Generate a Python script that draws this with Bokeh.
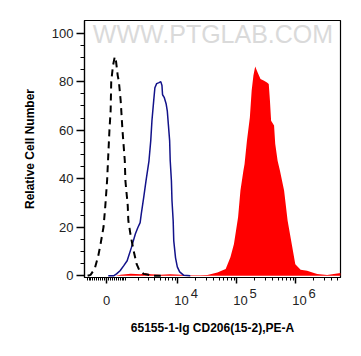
import numpy as np
from bokeh.plotting import figure
from bokeh.models import FixedTicker, Range1d, Label
from bokeh.embed import file_html
from bokeh.resources import INLINE

# x positions in biexponential display units (decades), y in % of max
iso_x = [-0.32, -0.27, -0.20, -0.14, -0.10, -0.05, -0.02, 0.01, 0.05, 0.07, 0.08, 0.11, 0.14,
         0.16, 0.19, 0.21, 0.24, 0.27, 0.31, 0.32, 0.36, 0.37, 0.41, 0.46, 0.51, 0.56, 0.63,
         0.71, 0.78, 0.92]
iso_y = [0.0, 0.4, 2.9, 8.2, 13.2, 20.2, 28.9, 39.2, 60.2, 68.0, 80.0, 86.6, 90.3,
         88.7, 82.5, 80.0, 72.2, 60.2, 47.4, 39.2, 28.9, 22.7, 16.5, 10.3, 4.9, 2.1, 0.8,
         0.4, 0.0, 0.0]

ctrl_x = [0.03, 0.12, 0.17, 0.23, 0.29, 0.35, 0.42, 0.49, 0.53, 0.57, 0.59, 0.63, 0.67, 0.72,
          0.75, 0.77, 0.80, 0.82, 0.85, 0.89, 0.92, 0.94, 0.95, 0.98, 1.01, 1.03, 1.05, 1.07,
          1.08, 1.10, 1.11, 1.13, 1.14, 1.17, 1.20, 1.24, 1.31, 1.42]
ctrl_y = [0.0, 0.0, 0.8, 2.1, 4.1, 6.2, 11.5, 17.3, 19.8, 21.9, 25.6, 32.2, 39.2, 47.4,
          55.7, 63.9, 72.2, 77.5, 79.2, 79.6, 80.0, 78.4, 74.6, 73.4, 70.9, 68.0, 61.9, 55.7,
          47.4, 39.2, 30.9, 22.7, 14.4, 7.4, 3.7, 1.6, 0.2, 0.0]

pos_x = [0.15, 0.24, 0.41, 0.58, 0.66, 0.75, 0.92, 1.08, 1.25, 1.42, 1.59, 1.71, 1.88, 2.02,
         2.10, 2.16, 2.23, 2.27, 2.32, 2.34, 2.38, 2.43, 2.46, 2.49, 2.52, 2.56, 2.61, 2.67,
         2.72, 2.75, 2.77, 2.79, 2.84, 2.86, 2.90, 2.94, 3.01, 3.07, 3.15, 3.20, 3.29, 3.40,
         3.49, 3.57, 3.74, 3.91, 3.97]
pos_y = [0.0, 0.4, 0.8, 0.6, 1.0, 0.6, 0.4, 0.6, 0.4, 0.2, 0.2, 0.3, 1.4, 2.8,
         7.6, 13.1, 24.1, 35.1, 43.3, 46.1, 55.7, 65.3, 76.3, 82.5, 86.2, 83.9, 81.1, 80.4,
         79.7, 79.0, 72.2, 63.9, 61.9, 54.3, 47.4, 43.3, 35.1, 22.7, 11.7, 4.8, 2.5, 2.1,
         1.4, 0.7, 0.3, 0.9, 1.2]

x_major_vals = [0, 1e4, 1e5, 1e6]
x_label_base = ["0", "10", "10", "10"]
x_label_exp = ["", "4", "5", "6"]
x_minor_vals = ([-k * 100 for k in range(1, 11)] + [k * 100 for k in range(1, 10)] +
                [k * 1000 for k in range(1, 10)] + [k * 1e4 for k in range(2, 10)] +
                [k * 1e5 for k in range(2, 10)] + [k * 1e6 for k in range(2, 6)])
y_ticks = [0, 20, 40, 60, 80, 100]
y_minor = [v for v in range(0, 105, 5)]


def biex(v):
    return round(float(np.arcsinh(v / 1234.0) / np.log(10)), 6)


FS = "\u2007"   # figure space
NB = "\u00a0"   # no-break space


def tick_label(base, exp):
    # exponent on a raised first line, base on the second line
    if not exp:
        return NB + "\n" + base
    return FS * 4 + NB + exp + "\n" + FS + base


X0, X1 = -0.373, 3.966
p = figure(width=353, height=348, output_backend="svg", toolbar_location=None,
           x_range=Range1d(X0, X1), y_range=Range1d(-0.7, 105.2),
           min_border_left=84, min_border_right=13, min_border_top=20, min_border_bottom=71)
p.grid.visible = False
p.background_fill_color = "white"
p.border_fill_color = "white"
p.outline_line_color = "black"
p.outline_line_width = 1.2

p.varea(x=pos_x, y1=0, y2=pos_y, color="#ff0000")
p.line(ctrl_x, ctrl_y, line_color="#12128a", line_width=1.5)
p.line(iso_x, iso_y, line_color="black", line_width=2, line_dash="7 5")

wm = Label(x=1.805, y=99.8, text="WWW.PTGLAB.COM", text_align="center",
           text_baseline="middle", text_font="Liberation Sans", text_font_size="25px",
           text_color="#dadada")
p.add_layout(wm)

xt = [biex(v) for v in x_major_vals]
p.xaxis.ticker = FixedTicker(ticks=xt, minor_ticks=[biex(v) for v in x_minor_vals])
p.xaxis.major_label_overrides = {t: tick_label(b, e) for t, b, e in zip(xt, x_label_base, x_label_exp)}
p.yaxis.ticker = FixedTicker(ticks=y_ticks, minor_ticks=y_minor)

for ax in (p.xaxis[0], p.yaxis[0]):
    ax.axis_line_color = "black"
    ax.axis_line_width = 1.2
    ax.major_tick_line_color = "black"
    ax.minor_tick_line_color = "black"
    ax.major_tick_line_width = 1.5
    ax.major_tick_in = 0
    ax.minor_tick_in = 0
    ax.major_label_text_font = "Liberation Sans"
    ax.major_label_text_font_size = "13px"
    ax.major_label_text_color = "#222222"
    ax.axis_label_text_font = "Liberation Sans"
    ax.axis_label_text_font_style = "bold"
    ax.axis_label_text_font_size = "12px"
    ax.axis_label_text_color = "black"

p.yaxis.major_tick_out = 8
p.yaxis.minor_tick_out = 4
p.yaxis.major_label_standoff = 3
p.yaxis.axis_label = "Relative Cell Number"
p.yaxis.axis_label_standoff = 12

p.xaxis.major_tick_out = 6
p.xaxis.minor_tick_out = 3
p.xaxis.major_label_standoff = 2
p.xaxis.major_label_text_line_height = 0.5
p.xaxis.axis_label = "65155-1-Ig CD206(15-2),PE-A"
p.xaxis.axis_label_standoff = 10

open("out.html", "w").write(file_html(p, INLINE))
